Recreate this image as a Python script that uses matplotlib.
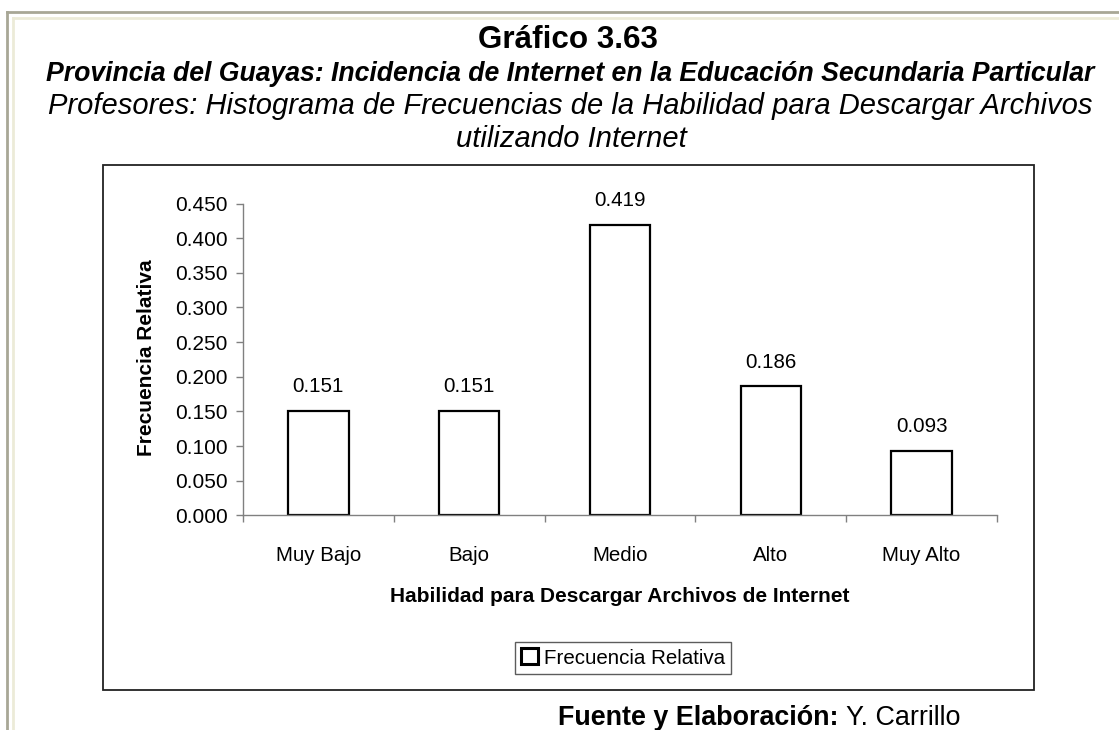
import matplotlib
matplotlib.use("Agg")
import matplotlib.pyplot as plt
from matplotlib.patches import Rectangle
from matplotlib.lines import Line2D

# ---------- DATA ----------
categorias = ["Muy Bajo", "Bajo", "Medio", "Alto", "Muy Alto"]
frecuencia_relativa = [0.151, 0.151, 0.419, 0.186, 0.093]
y_ticks = [0.000, 0.050, 0.100, 0.150, 0.200, 0.250, 0.300, 0.350, 0.400, 0.450]

plt.rcParams["font.family"] = ["Liberation Sans", "DejaVu Sans"]

W, H = 1119, 730
fig = plt.figure(figsize=(W / 100, H / 100), dpi=100)
fig.patch.set_facecolor("white")


def fx(px):
    return px / W


def fy(py):
    return 1 - py / H


# ---------- PAGE FRAME ----------
fig.add_artist(Line2D([fx(7), 1], [fy(12), fy(12)], color="#a8a796", lw=2))
fig.add_artist(Line2D([fx(7), fx(7)], [fy(12), 0], color="#a8a796", lw=2))
fig.add_artist(Line2D([fx(13), 1], [fy(18), fy(18)], color="#ecebd8", lw=2))
fig.add_artist(Line2D([fx(13), fx(13)], [fy(18), 0], color="#ecebd8", lw=2))

# ---------- TITLES ----------
fig.text(fx(568), fy(40), "Gráfico 3.63", ha="center", va="center",
         fontsize=22.6, fontweight="bold")
fig.text(fx(570), fy(74), "Provincia del Guayas: Incidencia de Internet en la Educación Secundaria Particular",
         ha="center", va="center", fontsize=19.2, fontweight="bold", style="italic")
fig.text(fx(570), fy(106), "Profesores: Histograma de Frecuencias de la Habilidad para Descargar Archivos",
         ha="center", va="center", fontsize=21.0, style="italic")
fig.text(fx(571), fy(139), "utilizando Internet",
         ha="center", va="center", fontsize=21.0, style="italic")

# chart box
fig.add_artist(Rectangle((fx(103), fy(690)), fx(1034) - fx(103), fy(165) - fy(690),
                         fill=False, edgecolor="#222222", lw=1.3))

# ---------- PLOT ----------
ax = fig.add_axes([fx(243), fy(515.4), fx(997) - fx(243), fy(203.5) - fy(515.4)])
x = list(range(len(categorias)))
bars = ax.bar(x, frecuencia_relativa, width=0.4, color="white",
              edgecolor="black", linewidth=1.6, label="Frecuencia Relativa")

for xi, v in zip(x, frecuencia_relativa):
    ax.annotate(f"{v:.3f}", (xi, v), xytext=(0, 17.5), textcoords="offset points",
                ha="center", va="center", fontsize=14.8)

ax.set_xlim(-0.5, len(categorias) - 0.5)
ax.set_ylim(0, 0.45)
ax.set_yticks(y_ticks)
ax.set_yticklabels([f"{t:.3f}" for t in y_ticks], fontsize=15)
ax.set_xticks(x)
ax.set_xticklabels(categorias, fontsize=14.8)
ax.set_xticks([i - 0.5 for i in range(len(categorias) + 1)], minor=True)
ax.tick_params(axis="x", which="major", length=0, pad=22)
ax.tick_params(axis="x", which="minor", length=5, color="#808080", width=1)
ax.tick_params(axis="y", length=5, color="#808080", width=1, pad=6)

for s in ["top", "right"]:
    ax.spines[s].set_visible(False)
for s in ["left", "bottom"]:
    ax.spines[s].set_color("#808080")
    ax.spines[s].set_linewidth(1)

fig.text(fx(146), fy(358), "Frecuencia Relativa", rotation=90, ha="center", va="center",
         fontsize=15, fontweight="bold")
fig.text(fx(620), fy(596), "Habilidad para Descargar Archivos de Internet", ha="center",
         va="center", fontsize=15, fontweight="bold")

leg = fig.legend(handles=[bars], labels=["Frecuencia Relativa"], loc="center",
                 bbox_to_anchor=(fx(623), fy(658)), fontsize=14.8, frameon=True,
                 fancybox=False, handlelength=0.8, handleheight=0.8, handletextpad=0.3,
                 borderpad=0.3, borderaxespad=0)
leg.get_frame().set_edgecolor("#333333")
leg.get_frame().set_linewidth(1)
for p in leg.get_patches():
    p.set_linewidth(2.2)

# ---------- SOURCE ----------
t1 = fig.text(fx(558), fy(718), "Fuente y Elaboración: ", ha="left", va="center",
              fontsize=19.4, fontweight="bold")
fig.canvas.draw()
bb = t1.get_window_extent()
fig.text(bb.x1 / W, fy(718), "Y. Carrillo", ha="left", va="center", fontsize=19.4)

fig.savefig("out.png", dpi=100)
